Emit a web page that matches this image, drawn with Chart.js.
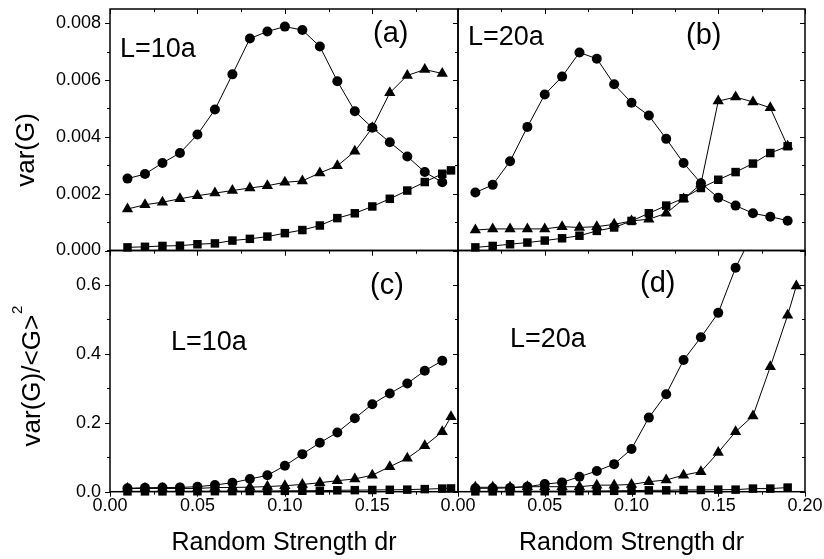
<!DOCTYPE html>
<html>
<head>
<meta charset="utf-8">
<title>var(G) vs random strength</title>
<script src="https://cdn.jsdelivr.net/npm/chart.js@4.4.1/dist/chart.umd.min.js"></script>
<style>
    html, body { margin: 0; padding: 0; background: #fff; }
    #wrap { position: relative; width: 824px; height: 559px; }
    #wrap canvas { position: absolute; left: 0; top: 0; }
</style>
</head>
<body>
<div id="wrap">
    <canvas id="panelA" width="824" height="559"></canvas>
    <canvas id="panelB" width="824" height="559"></canvas>
    <canvas id="panelC" width="824" height="559"></canvas>
    <canvas id="panelD" width="824" height="559"></canvas>
</div>
<script>
// random strength dr (x values), last one only used by some series
const dr = [0.01, 0.02, 0.03, 0.04, 0.05, 0.06, 0.07, 0.08, 0.09, 0.10,
            0.11, 0.12, 0.13, 0.14, 0.15, 0.16, 0.17, 0.18, 0.19, 0.195];

// (a) var(G), L=10a
const circlesA   = [0.00253, 0.00269, 0.00308, 0.00343, 0.00408, 0.00496, 0.0062, 0.00746, 0.00771, 0.00788,
                    0.00776, 0.00718, 0.00596, 0.0049, 0.00432, 0.00381, 0.00331, 0.00276, 0.0024];
const trianglesA = [0.00146, 0.00161, 0.0017, 0.00182, 0.00193, 0.00202, 0.00211, 0.0022, 0.00228, 0.0024,
                    0.00245, 0.00273, 0.00298, 0.00349, 0.00432, 0.00555, 0.00616, 0.00637, 0.00623];
const squaresA   = [0.00011, 0.00013, 0.00016, 0.00017, 0.00022, 0.00025, 0.00035, 0.00041, 0.00049, 0.00061,
                    0.00072, 0.00088, 0.00114, 0.00131, 0.00155, 0.00182, 0.00211, 0.00241, 0.0027, 0.00282];

// (b) var(G), L=20a
const circlesB   = [0.00204, 0.00231, 0.00314, 0.00435, 0.00549, 0.00612, 0.00697, 0.00675, 0.00585, 0.0052,
                    0.00475, 0.00393, 0.00308, 0.00237, 0.00186, 0.00158, 0.00131, 0.00119, 0.00105];
const trianglesB = [0.00072, 0.00076, 0.00076, 0.00076, 0.00076, 0.00084, 0.00081, 0.00084, 0.00092, 0.00104,
                    0.0011, 0.00131, 0.00181, 0.00234, 0.00526, 0.0054, 0.00523, 0.00502, 0.00367];
const squaresB   = [0.00011, 0.00016, 0.00022, 0.00028, 0.00035, 0.00043, 0.00052, 0.00069, 0.00081, 0.00104,
                    0.00131, 0.00158, 0.00184, 0.0022, 0.00249, 0.00276, 0.00306, 0.00343, 0.00367];

// (c) var(G)/<G>^2, L=10a
const circlesC   = [0.0099, 0.0116, 0.012, 0.0125, 0.0145, 0.0194, 0.026, 0.0368, 0.0476, 0.0754,
                    0.109, 0.142, 0.172, 0.213, 0.254, 0.285, 0.314, 0.351, 0.38];
const trianglesC = [0.009, 0.0095, 0.0095, 0.0095, 0.0095, 0.012, 0.0125, 0.013, 0.015, 0.0174,
                    0.021, 0.026, 0.032, 0.037, 0.048, 0.0725, 0.097, 0.133, 0.174, 0.2175];
const squaresC   = [0.001, 0.001, 0.001, 0.0012, 0.0013, 0.0015, 0.0017, 0.002, 0.0022, 0.0025,
                    0.0028, 0.003, 0.004, 0.0045, 0.005, 0.0055, 0.006, 0.0075, 0.009, 0.0095];

// (d) var(G)/<G>^2, L=20a (circles leave the frame after 0.16)
const circlesD   = [0.0099, 0.0099, 0.011, 0.0145, 0.022, 0.027, 0.0435, 0.06, 0.08, 0.124,
                    0.215, 0.283, 0.382, 0.448, 0.519, 0.65, 0.75];
const trianglesD = [0.0128, 0.0128, 0.0128, 0.0145, 0.0145, 0.0145, 0.0145, 0.019, 0.019, 0.021,
                    0.029, 0.034, 0.048, 0.058, 0.114, 0.174, 0.22, 0.3625, 0.512, 0.597];
const squaresD   = [0.001, 0.001, 0.001, 0.0012, 0.0014, 0.0016, 0.0018, 0.002, 0.0025, 0.003,
                    0.004, 0.004, 0.005, 0.005, 0.006, 0.006, 0.009, 0.009, 0.012];

const FONT = '"Liberation Sans", Arial, sans-serif';

function toPoints(ys) {
    return ys.map((v, i) => ({ x: dr[i], y: v }));
}

function series(ys, style, radius, clip) {
    return {
        data: toPoints(ys),
        borderColor: '#000',
        borderWidth: 1,
        backgroundColor: '#000',
        pointStyle: style,
        pointRadius: radius,
        pointBackgroundColor: '#000',
        pointBorderColor: '#000',
        pointBorderWidth: 0,
        tension: 0,
        clip: clip || false
    };
}

// marker sizes
const R_CIRCLE = 5, R_TRI = 6.5, R_RECT = 6;

// frame, minor/major ticks and the text labels of one panel
const panelDecor = {
    id: 'panelDecor',
    afterDraw(chart, args, opts) {
        const { ctx, chartArea: a } = chart;
        const xs = chart.scales.x, ys = chart.scales.y;
        ctx.save();
        ctx.strokeStyle = '#000';
        ctx.lineWidth = 1;
        ctx.beginPath();
        const nx = Math.floor(xs.max / opts.xMinor + 1e-6);
        for (let i = 0; i <= nx; i++) {
            const px = Math.round(xs.getPixelForValue(i * opts.xMinor)) + 0.5;
            const len = i % 2 === 0 ? 5 : 3;
            ctx.moveTo(px, a.bottom); ctx.lineTo(px, a.bottom + len);   // outward
            ctx.moveTo(px, a.top); ctx.lineTo(px, a.top + len);         // inward
        }
        const ny = Math.floor(ys.max / opts.yMinor + 1e-6);
        for (let i = 0; i <= ny; i++) {
            const py = Math.round(ys.getPixelForValue(i * opts.yMinor)) + 0.5;
            const len = i % 2 === 0 ? 5 : 3;
            ctx.moveTo(a.left, py); ctx.lineTo(a.left - len, py);       // outward
            ctx.moveTo(a.right, py); ctx.lineTo(a.right - len, py);     // inward
        }
        ctx.stroke();
        ctx.lineWidth = 1.5;
        ctx.strokeRect(a.left, a.top, a.right - a.left, a.bottom - a.top);

        ctx.fillStyle = '#000';
        ctx.textBaseline = 'alphabetic';
        (opts.labels || []).forEach(l => {
            ctx.font = l.size + 'px ' + FONT;
            ctx.textAlign = l.align || 'left';
            if (l.rotate) {
                ctx.save();
                ctx.translate(l.x, l.y);
                ctx.rotate(-Math.PI / 2);
                const w = ctx.measureText(l.text).width;
                let sw = 0;
                if (l.sup) {
                    ctx.font = l.supSize + 'px ' + FONT;
                    sw = ctx.measureText(l.sup).width + 1;
                }
                const start = -(w + sw) / 2;
                ctx.textAlign = 'left';
                ctx.font = l.size + 'px ' + FONT;
                ctx.fillText(l.text, start, 0);
                if (l.sup) {
                    ctx.font = l.supSize + 'px ' + FONT;
                    ctx.fillText(l.sup, start + w + 1, -l.supRaise);
                }
                ctx.restore();
            } else {
                ctx.fillText(l.text, l.x, l.y);
            }
        });
        ctx.restore();
    }
};

function makePanel(canvasId, p) {
    const W = 824, H = 559;
    new Chart(document.getElementById(canvasId), {
        type: 'line',
        data: { datasets: p.datasets },
        options: {
            responsive: false,
            animation: false,
            devicePixelRatio: 1,
            layout: {
                padding: {
                    left: p.showY ? 0 : p.area.left,
                    top: p.area.top,
                    right: W - p.area.right,
                    bottom: 0
                }
            },
            scales: {
                x: {
                    type: 'linear',
                    min: 0,
                    max: p.xMax,
                    grid: { display: false, drawTicks: false },
                    border: { display: false },
                    ticks: {
                        display: p.showX,
                        stepSize: 0.05,
                        includeBounds: false,
                        autoSkip: false,
                        maxRotation: 0,
                        padding: 4,
                        color: '#000',
                        font: { family: FONT, size: 18 },
                        callback: v => v.toFixed(2)
                    },
                    afterFit: s => {
                        s.height = H - p.area.bottom;
                        s.paddingLeft = 0;
                        s.paddingRight = 0;
                    }
                },
                y: {
                    type: 'linear',
                    min: 0,
                    max: p.yMax,
                    grid: { display: false, drawTicks: false },
                    border: { display: false },
                    ticks: {
                        display: p.showY,
                        stepSize: p.yStep,
                        includeBounds: false,
                        padding: 9,
                        color: '#000',
                        font: { family: FONT, size: 18 },
                        callback: v => v.toFixed(p.yDigits)
                    },
                    afterFit: s => {
                        s.width = p.showY ? p.area.left : 0;
                        s.paddingTop = 0;
                        s.paddingBottom = 0;
                    }
                }
            },
            plugins: {
                legend: { display: false },
                tooltip: { enabled: false },
                panelDecor: { xMinor: 0.025, yMinor: p.yMinor, labels: p.labels }
            }
        },
        plugins: [panelDecor]
    });
}

const TOP = { yMax: 0.0085, yStep: 0.002, yMinor: 0.001, yDigits: 3 };
const BOTTOM = { yMax: 0.7, yStep: 0.2, yMinor: 0.1, yDigits: 1 };

makePanel('panelA', Object.assign({}, TOP, {
    area: { left: 110, top: 9, right: 458, bottom: 250.5 },
    xMax: 0.199, showX: false, showY: true,
    datasets: [
        series(circlesA, 'circle', R_CIRCLE),
        series(trianglesA, 'triangle', R_TRI),
        series(squaresA, 'rect', R_RECT)
    ],
    labels: [
        { text: 'L=10a', x: 120, y: 57, size: 27 },
        { text: '(a)', x: 373, y: 42, size: 29 },
        { text: 'var(G)', x: 34, y: 150, size: 26, rotate: true }
    ]
}));

makePanel('panelB', Object.assign({}, TOP, {
    area: { left: 458, top: 9, right: 805, bottom: 250.5 },
    xMax: 0.2, showX: false, showY: false,
    datasets: [
        series(circlesB, 'circle', R_CIRCLE),
        series(trianglesB, 'triangle', R_TRI),
        series(squaresB, 'rect', R_RECT)
    ],
    labels: [
        { text: 'L=20a', x: 468, y: 45, size: 27 },
        { text: '(b)', x: 686, y: 44, size: 29 }
    ]
}));

makePanel('panelC', Object.assign({}, BOTTOM, {
    area: { left: 110, top: 250.5, right: 458, bottom: 491.7 },
    xMax: 0.199, showX: true, showY: true,
    datasets: [
        series(circlesC, 'circle', R_CIRCLE),
        series(trianglesC, 'triangle', R_TRI),
        series(squaresC, 'rect', R_RECT)
    ],
    labels: [
        { text: '(c)', x: 370, y: 294, size: 29 },
        { text: 'L=10a', x: 171, y: 350, size: 27 },
        { text: 'Random Strength dr', x: 284, y: 550, size: 25, align: 'center' },
        { text: 'var(G)/<G>', sup: '2', supSize: 15, supRaise: 18, x: 40, y: 376, size: 26, rotate: true }
    ]
}));

makePanel('panelD', Object.assign({}, BOTTOM, {
    area: { left: 458, top: 250.5, right: 805, bottom: 491.7 },
    xMax: 0.2, showX: true, showY: false,
    datasets: [
        series(circlesD, 'circle', R_CIRCLE, { left: false, right: false, top: 0, bottom: false }),
        series(trianglesD, 'triangle', R_TRI),
        series(squaresD, 'rect', R_RECT)
    ],
    labels: [
        { text: '(d)', x: 640, y: 292, size: 29 },
        { text: 'L=20a', x: 510, y: 347, size: 27 },
        { text: 'Random Strength dr', x: 631.5, y: 550, size: 25, align: 'center' }
    ]
}));
</script>
</body>
</html>
